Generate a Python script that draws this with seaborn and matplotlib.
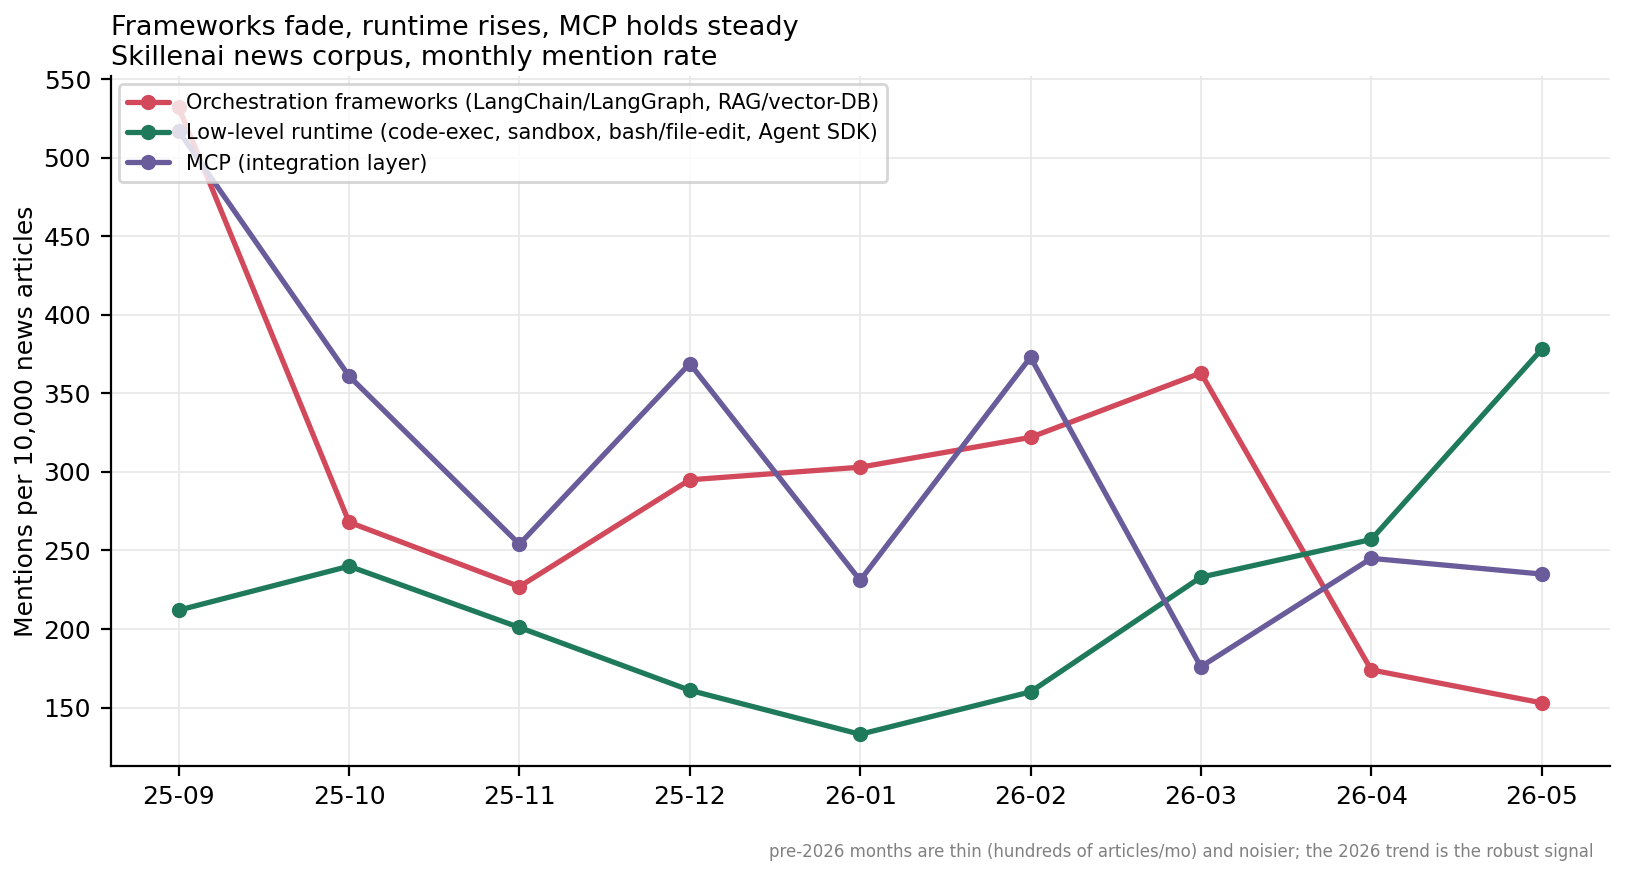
import numpy as np
import pandas as pd
import matplotlib
matplotlib.use("Agg")
import matplotlib.pyplot as plt
import seaborn as sns

months = ["25-09", "25-10", "25-11", "25-12", "26-01", "26-02", "26-03", "26-04", "26-05"]
orchestration = [532, 268, 227, 295, 303, 322, 363, 174, 153]
runtime = [212, 240, 201, 161, 133, 160, 233, 257, 378]
mcp = [517, 361, 254, 369, 231, 373, 176, 245, 235]

series_names = [
    "Orchestration frameworks (LangChain/LangGraph, RAG/vector-DB)",
    "Low-level runtime (code-exec, sandbox, bash/file-edit, Agent SDK)",
    "MCP (integration layer)",
]
colors = ["#d1495b", "#1e7a5a", "#6a5b9a"]

df = pd.DataFrame({
    "month": months * 3,
    "rate": orchestration + runtime + mcp,
    "series": [s for s in series_names for _ in months],
})

sns.set_style("ticks")
plt.rcParams["font.family"] = ["DejaVu Sans"]
for key in ["text.color", "axes.labelcolor", "xtick.color", "ytick.color", "axes.edgecolor"]:
    plt.rcParams[key] = "black"

fig, ax = plt.subplots(figsize=(8.13, 4.375), dpi=200)
fig.subplots_adjust(left=0.068, right=0.99, bottom=0.125, top=0.913)

sns.lineplot(data=df, x="month", y="rate", hue="series", palette=colors,
             marker="o", markersize=5.5, markeredgewidth=0, linewidth=1.9,
             sort=False, ax=ax)

ax.grid(True, color="#e8e8e8", linewidth=0.6)
ax.set_axisbelow(True)
sns.despine(ax=ax)
ax.set_xlabel("")
ax.set_ylabel("Mentions per 10,000 news articles", fontsize=9, labelpad=2)
ax.tick_params(labelsize=9)
ax.set_title("Frameworks fade, runtime rises, MCP holds steady\nSkillenai news corpus, monthly mention rate",
             loc="left", fontsize=9.75, pad=4)
ax.legend(loc="upper left", fontsize=7.5, frameon=True, borderaxespad=0.4)
fig.text(0.98, 0.016, "pre-2026 months are thin (hundreds of articles/mo) and noisier; the 2026 trend is the robust signal",
         ha="right", va="bottom", fontsize=6, color="grey")

fig.savefig("out.png", dpi=200)
